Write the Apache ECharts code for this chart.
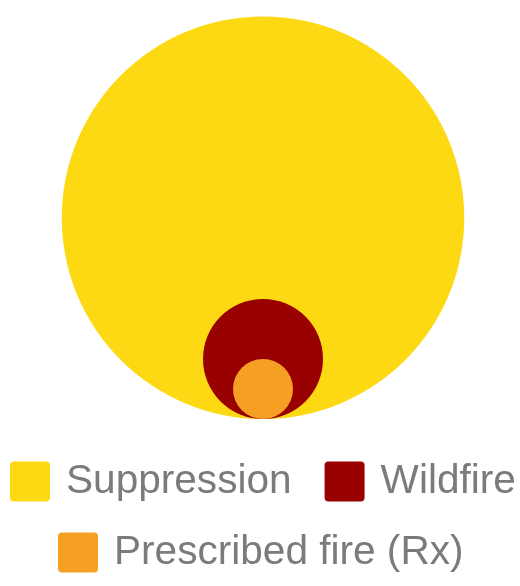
<!DOCTYPE html>
<html><head><meta charset="utf-8">
<script src="https://cdn.jsdelivr.net/npm/echarts@6/dist/echarts.min.js"></script>
<style>html,body{margin:0;padding:0;background:#fff}#c{width:520px;height:586px}</style>
</head><body><div id="c"></div>
<script>
const categories = ['Suppression', 'Wildfire', 'Prescribed fire (Rx)'];
const values = [45, 4, 1];
const colors = ['#FDD914', '#990000', '#F6A023'];

const chart = echarts.init(document.getElementById('c'), null, {renderer: 'canvas'});
function renderCircle(params, api) {
  const v = api.value(0);
  const r = Math.sqrt(v);
  const c = api.coord([0, r]);
  const rad = api.size([0, r])[1];
  return {type: 'circle', shape: {cx: c[0], cy: c[1], r: rad}, style: {fill: api.visual('color')}};
}
const series = categories.map((name, i) => ({
  name: name,
  type: 'custom',
  renderItem: renderCircle,
  data: [[values[i]]],
  itemStyle: {color: colors[i]},
  z: 2 + i,
  silent: true
}));
const icon = 'path://M4,0H36Q40,0 40,4V36Q40,40 36,40H4Q0,40 0,36V4Q0,0 4,0Z';
const textStyle = {fontSize: 40.6, color: '#7b7b7b', fontFamily: 'Liberation Sans, Arial, sans-serif', padding: [0, 0, 0, 11]};
chart.setOption({
  animation: false,
  grid: {left: 23, right: 17, top: 14, bottom: 167},
  xAxis: {type: 'value', min: -8, max: 8, show: false},
  yAxis: {type: 'value', min: 0, max: 13.5, show: false},
  legend: [
    {data: [{name: categories[0], icon: icon}, {name: categories[1], icon: icon}],
     left: 10, top: 461, itemWidth: 40, itemHeight: 40, itemGap: 33, padding: 0, textStyle: textStyle, selectedMode: false},
    {data: [{name: categories[2], icon: icon}],
     left: 58, top: 532, itemWidth: 40, itemHeight: 40, itemGap: 35, padding: 0, textStyle: textStyle, selectedMode: false}
  ],
  series: series
});
</script></body></html>
